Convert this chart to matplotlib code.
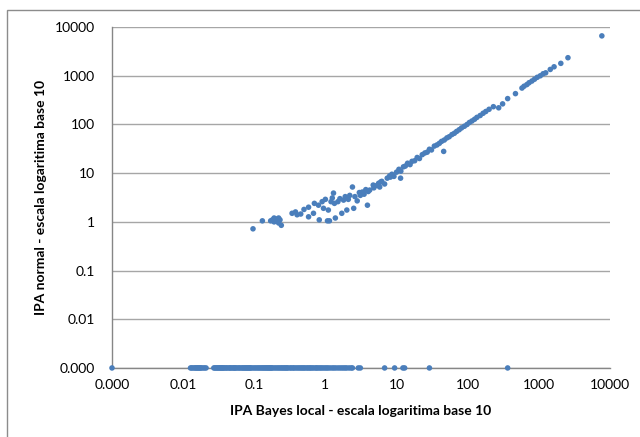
import matplotlib
matplotlib.use("Agg")
import matplotlib.pyplot as plt
from matplotlib.patches import Rectangle
from matplotlib.ticker import FixedLocator, FixedFormatter, NullLocator

plt.rcParams['font.family'] = ['Lato', 'DejaVu Sans']

# valor 0 se dibuja en la posicion de 0.001 (etiqueta "0.000")
ZERO = 0.001

# puntos con IPA normal > 0
cloud_x = [0.096, 0.13, 0.17, 0.18, 0.19, 0.2, 0.21, 0.22, 0.23, 0.24, 0.19, 0.22,
           0.34, 0.38, 0.40, 0.45, 0.5, 0.58, 0.58, 0.68, 0.7, 0.8, 0.82, 0.9, 0.94,
           1.0, 1.07, 1.1, 1.14, 1.2, 1.25, 1.3, 1.34, 1.38, 1.5, 1.6, 1.7, 1.8, 1.9,
           2.0, 2.1, 2.2, 2.4, 2.5, 2.6, 2.8, 3.0, 3.1, 3.3, 3.5, 3.7, 3.9, 4.0, 4.7,
           5.6, 6.0, 8.2]
cloud_y = [0.72, 1.05, 1.05, 1.1, 1.0, 1.15, 1.08, 0.95, 1.1, 0.85, 1.2, 1.2,
           1.5, 1.6, 1.4, 1.45, 1.8, 1.27, 2.0, 1.5, 2.4, 2.2, 1.1, 2.6, 1.9,
           2.9, 1.05, 1.75, 1.05, 2.6, 3.1, 3.9, 2.4, 1.2, 2.6, 3.0, 1.5, 2.8, 3.3,
           1.75, 2.9, 3.5, 5.2, 1.9, 3.3, 2.7, 4.0, 3.5, 4.1, 3.7, 4.6, 2.2, 4.2, 5.7,
           6.2, 6.6, 8.3]

line_x = [4.2, 4.8, 5.3, 5.8, 6.2, 6.8, 7.4, 8.0, 8.6, 9.2, 10, 10.8, 11.5, 12.5,
          13.3, 14.3, 15.5, 16.5, 18, 19.5, 21, 23, 25, 27, 29, 31, 34, 37, 40, 43,
          47, 51, 55, 60, 65, 70, 76, 82, 90, 98, 106, 115, 125, 135, 150, 165, 180,
          200, 230, 273, 310, 365, 470, 580, 620, 680, 730, 800, 870, 950, 1050,
          1150, 1250, 1450, 1640, 2040, 2570, 7700, 46, 11.4]
line_y = [4.5, 5.0, 5.6, 5.2, 6.8, 6.0, 7.9, 8.8, 9.5, 8.6, 10.5, 12, 11, 13.5,
          14, 16, 15, 17.5, 18, 21, 20, 24, 26, 27, 31, 30, 36, 38, 41, 45,
          48, 53, 56, 62, 66, 72, 78, 85, 92, 100, 110, 118, 128, 140, 153, 170, 185,
          205, 232, 220, 265, 340, 430, 560, 610, 660, 720, 780, 850, 930, 1000,
          1100, 1150, 1350, 1530, 1800, 2350, 6600, 28, 7.9]

# puntos con IPA normal = 0
zero_row_x = [ZERO, 0.0127, 0.0132, 0.0138, 0.0145, 0.015, 0.0155, 0.016, 0.0165,
              0.017, 0.0175, 0.018, 0.019, 0.02, 0.021,
              0.027, 0.028, 0.029, 0.030, 0.031, 0.032, 0.033, 0.034, 0.035, 0.036,
              0.037, 0.038, 0.04, 0.041, 0.043, 0.045, 0.046, 0.048, 0.05, 0.052,
              0.053, 0.055, 0.057, 0.06, 0.062, 0.065, 0.068, 0.07, 0.073, 0.075,
              0.078, 0.08, 0.083, 0.085, 0.088, 0.09, 0.095, 0.1, 0.105, 0.11,
              0.115, 0.12, 0.125, 0.13, 0.135, 0.14, 0.145, 0.15, 0.155, 0.16, 0.165,
              0.17, 0.175, 0.18, 0.19, 0.2, 0.21, 0.22, 0.23, 0.24, 0.25, 0.26, 0.27,
              0.28, 0.29, 0.3, 0.32, 0.33, 0.35, 0.36, 0.38, 0.4, 0.42, 0.44, 0.46,
              0.48, 0.5, 0.52, 0.55, 0.57, 0.6, 0.62, 0.65, 0.68, 0.72, 0.75, 0.78,
              0.82, 0.86, 0.9, 0.95, 1.0, 1.05, 1.1, 1.17, 1.25, 1.32, 1.4, 1.5, 1.6,
              1.7, 1.8, 1.9, 2.0, 2.15, 2.3, 2.4, 2.9, 3.1,
              6.8, 9.4, 12.3, 13, 29, 365]

ticks = [ZERO, 0.01, 0.1, 1, 10, 100, 1000, 10000]
tick_labels = ['0.000', '0.01', '0.1', '1', '10', '100', '1000', '10000']

color = '#4A7EBB'

fig = plt.figure(figsize=(6.4, 4.37), dpi=100)
ax = fig.add_axes([0.175, 0.158, 0.778, 0.78])

xs = cloud_x + line_x + zero_row_x
ys = cloud_y + line_y + [ZERO] * len(zero_row_x)
ax.scatter(xs, ys, s=16, color=color, edgecolors='none', zorder=3, clip_on=False)

ax.set_xscale('log')
ax.set_yscale('log')
ax.set_xlim(ZERO, 10000)
ax.set_ylim(ZERO, 10000)

for axis in (ax.xaxis, ax.yaxis):
    axis.set_major_locator(FixedLocator(ticks))
    axis.set_major_formatter(FixedFormatter(tick_labels))
    axis.set_minor_locator(NullLocator())

ax.tick_params(axis='both', length=0, labelsize=10, colors='#000000')
ax.tick_params(axis='y', pad=12)
ax.tick_params(axis='x', pad=8)

ax.yaxis.grid(True, color='#A6A6A6', linewidth=1.0)
ax.set_axisbelow(True)
for side in ('top', 'right'):
    ax.spines[side].set_visible(False)
for side in ('left', 'bottom'):
    ax.spines[side].set_color('#868686')
    ax.spines[side].set_linewidth(1.0)

ax.set_xlabel('IPA Bayes local - escala logaritima base 10', fontsize=10,
              fontweight='bold', labelpad=10)
ax.set_ylabel('IPA normal - escala logaritima base 10', fontsize=10,
              fontweight='bold', labelpad=6)

# marco exterior del grafico
fig.patches.append(Rectangle((7 / 640, -0.05), 1.1, 1.05 - 10 / 437,
                             transform=fig.transFigure, fill=False,
                             edgecolor='#8C8C8C', linewidth=1.0))

fig.savefig('out.png', dpi=100)
